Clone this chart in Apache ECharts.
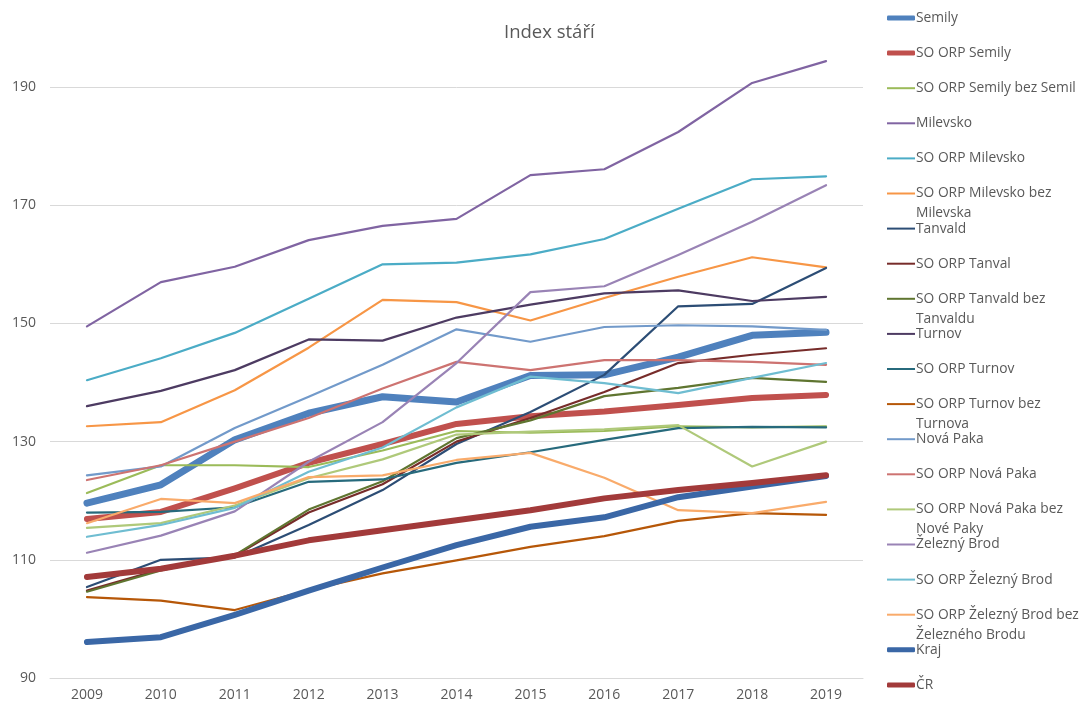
<!DOCTYPE html>
<html>
<head>
<meta charset="utf-8">
<script src="https://cdn.jsdelivr.net/npm/echarts@6/dist/echarts.min.js"></script>
<style>
html,body{margin:0;padding:0;background:#fff;}
#c{width:1086px;height:704px;}
</style>
</head>
<body>
<div id="c"></div>
<script>
const years = ['2009','2010','2011','2012','2013','2014','2015','2016','2017','2018','2019'];
const seriesNames = [
  'Semily','SO ORP Semily','SO ORP Semily bez Semil','Milevsko','SO ORP Milevsko',
  'SO ORP Milevsko bez Milevska','Tanvald','SO ORP Tanval','SO ORP Tanvald bez Tanvaldu','Turnov',
  'SO ORP Turnov','SO ORP Turnov bez Turnova','Nová Paka','SO ORP Nová Paka','SO ORP Nová Paka bez Nové Paky',
  'Železný Brod','SO ORP Železný Brod','SO ORP Železný Brod bez Železného Brodu','Kraj','ČR'
];
const semily            = [119.6,122.7,130.3,134.8,137.6,136.7,141.2,141.3,144.3,148.0,148.5];
const soOrpSemily       = [116.9,118.1,122.1,126.4,129.6,133.0,134.3,135.1,136.2,137.4,137.9];
const soOrpSemilyBez    = [121.3,126.0,126.0,125.7,128.5,131.8,131.5,131.8,132.6,132.4,132.6];
const milevsko          = [149.5,157.0,159.6,164.1,166.5,167.7,175.1,176.1,182.4,190.7,194.4];
const soOrpMilevsko     = [140.4,144.1,148.4,154.2,160.0,160.3,161.7,164.3,169.4,174.4,174.9];
const soOrpMilevskoBez  = [132.6,133.3,138.7,145.9,154.0,153.6,150.5,154.3,157.9,161.2,159.5];
const tanvald           = [105.4,110.0,110.4,115.9,121.8,129.6,135.0,141.3,152.9,153.3,159.4];
const soOrpTanval       = [104.8,108.4,110.7,118.0,122.8,130.0,134.0,138.4,143.3,144.7,145.8];
const soOrpTanvaldBez   = [104.6,108.2,110.8,118.5,123.3,130.6,133.6,137.7,139.1,140.8,140.1];
const turnov            = [136.0,138.6,142.1,147.3,147.1,151.0,153.2,155.1,155.6,153.8,154.5];
const soOrpTurnov       = [118.0,118.1,118.9,123.2,123.6,126.4,128.2,130.3,132.3,132.5,132.4];
const soOrpTurnovBez    = [103.7,103.1,101.5,104.9,107.7,109.9,112.2,114.0,116.6,117.9,117.6];
const novaPaka          = [124.3,125.8,132.3,137.6,143.0,149.0,146.9,149.4,149.7,149.5,148.9];
const soOrpNovaPaka     = [123.5,126.0,130.0,134.0,139.0,143.5,142.1,143.8,143.8,143.5,143.0];
const soOrpNovaPakaBez  = [115.4,116.2,119.2,123.8,127.0,131.2,131.7,132.1,132.8,125.8,130.0];
const zeleznyBrod       = [111.2,114.1,118.2,126.6,133.3,143.3,155.3,156.3,161.6,167.2,173.4];
const soOrpZeleznyBrod  = [113.9,115.9,118.8,124.9,129.0,135.8,141.0,139.9,138.2,140.8,143.3];
const soOrpZeleznyBez   = [116.2,120.3,119.6,124.0,124.3,126.9,128.1,123.9,118.4,117.9,119.8];
const kraj              = [96.1,96.9,100.7,104.8,108.7,112.5,115.6,117.2,120.6,122.4,124.2];
const cr                = [107.1,108.5,110.7,113.3,115.0,116.7,118.4,120.4,121.8,123.0,124.3];
const yTicks = [90,110,130,150,170,190];

const seriesData = [semily,soOrpSemily,soOrpSemilyBez,milevsko,soOrpMilevsko,soOrpMilevskoBez,
  tanvald,soOrpTanval,soOrpTanvaldBez,turnov,soOrpTurnov,soOrpTurnovBez,novaPaka,soOrpNovaPaka,
  soOrpNovaPakaBez,zeleznyBrod,soOrpZeleznyBrod,soOrpZeleznyBez,kraj,cr];

const colors = ['#4F81BD','#C0504D','#9BBB59','#8064A2','#4BACC6','#F79646',
  '#2C4D75','#772C2A','#5F7530','#4D3B62','#276A7C','#B65708',
  '#729ACA','#CD7371','#AFC97A','#9983B5','#6FBDD1','#F9AB6B','#3A67A6','#A23A3A'];
const thick = {'Semily':7,'SO ORP Semily':6,'Kraj':6,'ČR':6};
const wrapped = {
  'SO ORP Milevsko bez Milevska':['SO ORP Milevsko bez','Milevska'],
  'SO ORP Tanvald bez Tanvaldu':['SO ORP Tanvald bez','Tanvaldu'],
  'SO ORP Turnov bez Turnova':['SO ORP Turnov bez','Turnova'],
  'SO ORP Nová Paka bez Nové Paky':['SO ORP Nová Paka bez','Nové Paky'],
  'SO ORP Železný Brod bez Železného Brodu':['SO ORP Železný Brod bez','Železného Brodu']
};
const FONT = '"Open Sans", "Noto Sans", sans-serif';
const LH = 20;

const legends = seriesNames.map((name, i) => {
  const cy = 18 + 35.1 * i;
  const w = wrapped[name];
  return {
    data: [name],
    orient: 'vertical',
    left: 887,
    top: w ? cy - 1.5 * LH : cy - LH / 2,
    padding: 0,
    itemWidth: 28,
    itemHeight: thick[name] ? 5 : 2,
    icon: thick[name] ? 'roundRect' : 'rect',
    formatter: w ? (' \n' + w[0] + '\n' + w[1]) : name,
    textStyle: {fontFamily: FONT, fontSize: 13.8, color: '#595959', lineHeight: LH, padding: [0,0,0,-4]}
  };
});

const series = seriesNames.map((name, i) => ({
  name: name,
  type: 'line',
  data: seriesData[i],
  symbol: 'none',
  showSymbol: false,
  color: colors[i],
  lineStyle: {width: thick[name] || 2.2, color: colors[i], cap: 'round', join: 'round'},
  emphasis: {disabled: true},
  animation: false
}));

const chart = echarts.init(document.getElementById('c'));
chart.setOption({
  backgroundColor: '#ffffff',
  animation: false,
  title: {
    text: 'Index stáří',
    left: 499, top: 18,
    textStyle: {fontFamily: FONT, fontSize: 18.5, fontWeight: 'normal', color: '#595959'}
  },
  legend: legends,
  grid: {left: 50, right: 223, top: 28, bottom: 26, containLabel: false},
  xAxis: {
    type: 'category',
    data: years,
    boundaryGap: true,
    axisLine: {lineStyle: {color: '#d9d9d9', width: 1}},
    axisTick: {show: false},
    axisLabel: {color: '#595959', fontFamily: FONT, fontSize: 14, margin: 10}
  },
  yAxis: {
    type: 'value',
    min: yTicks[0],
    max: 200,
    interval: yTicks[1] - yTicks[0],
    axisLine: {show: false},
    axisTick: {show: false},
    splitLine: {lineStyle: {color: '#d9d9d9', width: 1}, showMaxLine: false},
    axisLabel: {color: '#595959', fontFamily: FONT, fontSize: 14, margin: 14, showMaxLabel: false}
  },
  series: series
});
</script>
</body>
</html>
